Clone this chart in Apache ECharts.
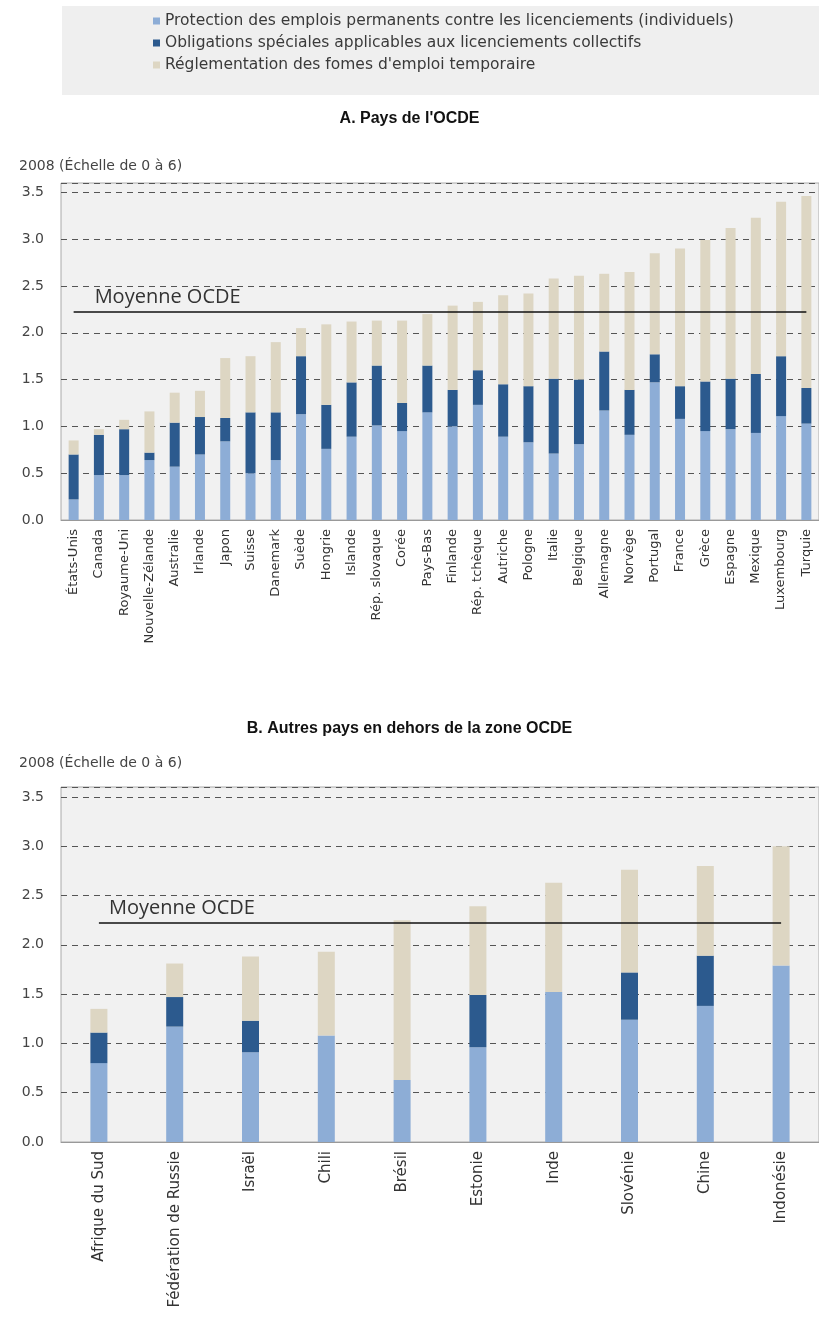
<!DOCTYPE html>
<html>
<head>
<meta charset="utf-8">
<script src="https://cdn.jsdelivr.net/npm/echarts@6/dist/echarts.min.js"></script>
<style>
  html, body { margin: 0; padding: 0; background: #fff; }
  #chart { width: 819px; height: 1328px; }
</style>
</head>
<body>
<div id="chart"></div>
<script>
// noms des séries
const seriesNames = [
  "Protection des emplois permanents contre les licenciements (individuels)",
  "Obligations spéciales applicables aux licenciements collectifs",
  "Réglementation des fomes d'emploi temporaire"
];

// A. Pays de l'OCDE
const paysOcde = ["États-Unis", "Canada", "Royaume-Uni", "Nouvelle-Zélande", "Australie", "Irlande", "Japon", "Suisse", "Danemark", "Suède",
  "Hongrie", "Islande", "Rép. slovaque", "Corée", "Pays-Bas", "Finlande", "Rép. tchèque", "Autriche", "Pologne", "Italie",
  "Belgique", "Allemagne", "Norvège", "Portugal", "France", "Grèce", "Espagne", "Mexique", "Luxembourg", "Turquie"];
const ocdeIndividuels = [0.22, 0.48, 0.48, 0.64, 0.57, 0.70, 0.84, 0.50, 0.64, 1.13,
  0.76, 0.89, 1.01, 0.95, 1.15, 1.00, 1.23, 0.89, 0.83, 0.71,
  0.81, 1.17, 0.91, 1.47, 1.08, 0.95, 0.97, 0.93, 1.11, 1.03];
const ocdeCollectifs = [0.48, 0.43, 0.49, 0.08, 0.47, 0.40, 0.25, 0.65, 0.51, 0.62,
  0.47, 0.58, 0.64, 0.30, 0.50, 0.39, 0.37, 0.56, 0.60, 0.80,
  0.69, 0.63, 0.48, 0.30, 0.35, 0.53, 0.54, 0.63, 0.64, 0.38];
const ocdeTemporaire = [0.15, 0.06, 0.10, 0.44, 0.32, 0.28, 0.64, 0.60, 0.75, 0.30,
  0.86, 0.65, 0.48, 0.88, 0.55, 0.90, 0.73, 0.95, 0.99, 1.07,
  1.11, 0.83, 1.26, 1.08, 1.47, 1.51, 1.61, 1.67, 1.65, 2.05];

// B. Autres pays
const paysAutres = ["Afrique du Sud", "Fédération de Russie", "Israël", "Chili", "Brésil", "Estonie", "Inde", "Slovénie", "Chine", "Indonésie"];
const autresIndividuels = [0.80, 1.17, 0.91, 1.08, 0.63, 0.96, 1.52, 1.24, 1.38, 1.79];
const autresCollectifs = [0.31, 0.30, 0.32, 0, 0, 0.53, 0, 0.48, 0.51, 0];
const autresTemporaire = [0.24, 0.34, 0.65, 0.85, 1.62, 0.90, 1.11, 1.04, 0.91, 1.21];

const moyenneOcde = 2.22;
const yTicks = [0, 0.5, 1, 1.5, 2, 2.5, 3, 3.5];

const colors = ["#8dadd6", "#2c5a8e", "#ddd6c3"];
const font = "DejaVu Sans, sans-serif";

let myChart = echarts.init(document.getElementById("chart"));

function yAxis(gridIndex) {
  return {
    type: "value",
    gridIndex: gridIndex,
    min: 0,
    max: 3.6,
    interval: 0.5,
    axisLine: { show: false },
    axisTick: { show: false },
    axisLabel: {
      color: "#444",
      fontSize: 14,
      fontFamily: font,
      margin: 17,
      formatter: function (v) {
        return yTicks.indexOf(v) >= 0 ? v.toFixed(1) : "";
      }
    },
    splitLine: { lineStyle: { color: "#555", type: [6, 5], width: 1 } }
  };
}

function xAxis(gridIndex, data, size) {
  return {
    type: "category",
    gridIndex: gridIndex,
    data: data,
    axisLine: { lineStyle: { color: "#999" } },
    axisTick: { show: false },
    axisLabel: {
      rotate: 90,
      interval: 0,
      color: "#333",
      fontSize: size,
      fontFamily: font,
      margin: 9
    }
  };
}

function bars(gridIndex, stack, width, values) {
  return values.map(function (d, i) {
    return {
      name: seriesNames[i],
      type: "bar",
      stack: stack,
      xAxisIndex: gridIndex,
      yAxisIndex: gridIndex,
      barWidth: width,
      itemStyle: { color: colors[i] },
      data: d
    };
  });
}

function moyenne(lastIndex, padLeft) {
  return {
    silent: true,
    symbol: "none",
    lineStyle: { color: "#111", width: 1.5, type: "solid" },
    label: {
      show: true,
      position: "insideStartTop",
      formatter: "Moyenne OCDE",
      color: "#333",
      fontSize: 20,
      fontFamily: "Open Sans, sans-serif",
      padding: [0, 0, 0, padLeft]
    },
    data: [[{ coord: [0, moyenneOcde] }, { coord: [lastIndex, moyenneOcde] }]]
  };
}

let seriesA = bars(0, "a", 10, [ocdeIndividuels, ocdeCollectifs, ocdeTemporaire]);
seriesA[2].markLine = moyenne(paysOcde.length - 1, 16);
let seriesB = bars(1, "b", 17, [autresIndividuels, autresCollectifs, autresTemporaire]);
seriesB[2].markLine = moyenne(paysAutres.length - 1, 5);

let option = {
  animation: false,
  backgroundColor: "#fff",
  graphic: [
    { type: "rect", left: 62, top: 6, shape: { width: 757, height: 89 }, style: { fill: "#efefef" }, z: -1 }
  ],
  legend: {
    orient: "vertical",
    left: 148,
    top: 8,
    itemGap: 6,
    itemWidth: 7,
    itemHeight: 7,
    icon: "rect",
    data: seriesNames,
    textStyle: { color: "#3a3a3a", fontSize: 15.5, fontFamily: font }
  },
  title: [
    { text: "A. Pays de l'OCDE", left: "center", top: 106, textStyle: { fontSize: 16, fontWeight: "bold", color: "#111", fontFamily: "Liberation Sans, Arial, sans-serif" } },
    { text: "2008 (Échelle de 0 à 6)", left: 14, top: 154, textStyle: { fontSize: 14, fontWeight: "normal", color: "#444", fontFamily: font } },
    { text: "B. Autres pays en dehors de la zone OCDE", left: "center", top: 716, textStyle: { fontSize: 16, fontWeight: "bold", color: "#111", fontFamily: "Liberation Sans, Arial, sans-serif" } },
    { text: "2008 (Échelle de 0 à 6)", left: 14, top: 751, textStyle: { fontSize: 14, fontWeight: "normal", color: "#444", fontFamily: font } }
  ],
  grid: [
    { left: 61, top: 183, width: 765, height: 337, show: true, backgroundColor: "#f1f1f1", borderColor: "#aaa", borderWidth: 1 },
    { left: 61, top: 787, width: 760, height: 355, show: true, backgroundColor: "#f1f1f1", borderColor: "#aaa", borderWidth: 1 }
  ],
  xAxis: [xAxis(0, paysOcde, 13), xAxis(1, paysAutres, 15)],
  yAxis: [yAxis(0), yAxis(1)],
  series: seriesA.concat(seriesB)
};

myChart.setOption(option);
</script>
</body>
</html>
